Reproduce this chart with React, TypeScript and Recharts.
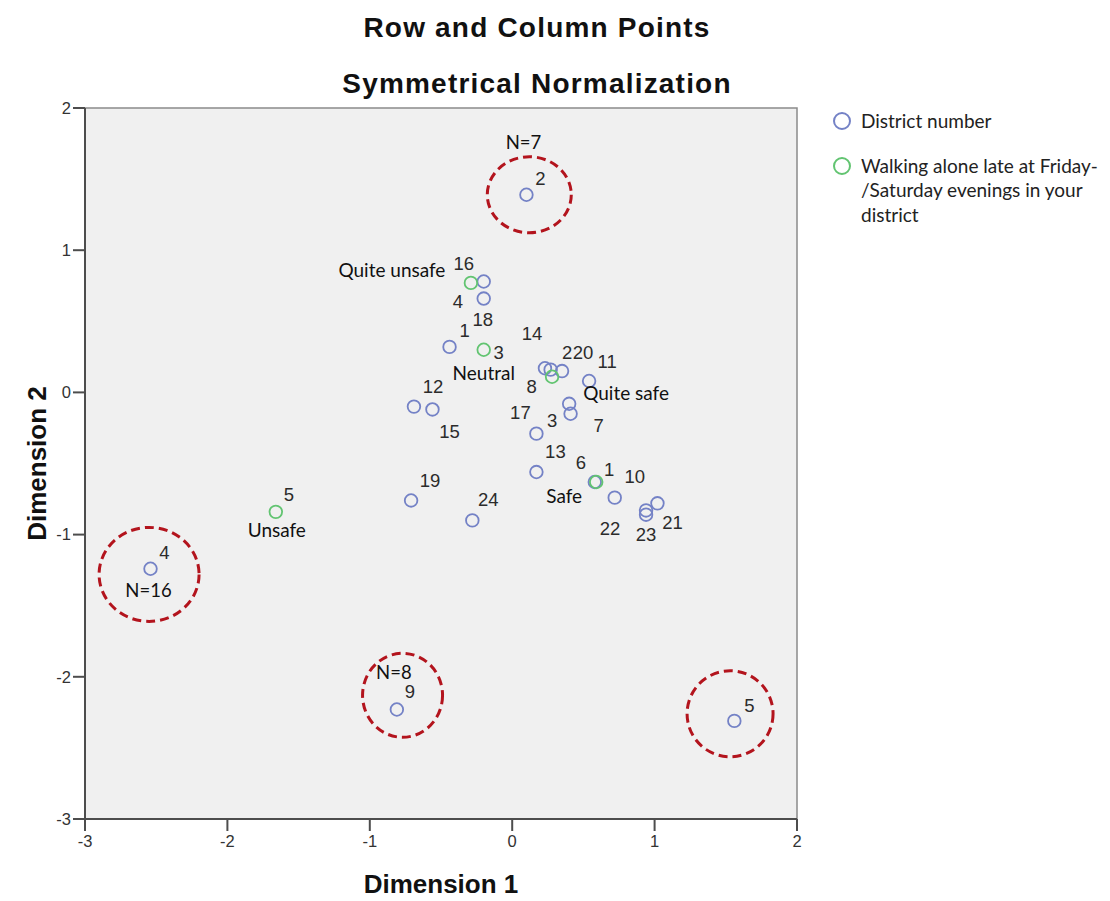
import {
  ScatterChart,
  Scatter,
  XAxis,
  YAxis,
  ReferenceArea,
  ReferenceDot,
  Legend,
  Label,
} from "recharts";

// row points: districts
const districtNames = [
  "1", "2", "3", "4", "5", "6", "7", "8", "9", "10", "11", "12",
  "13", "14", "15", "16", "17", "18", "19", "20", "21", "22", "23", "24",
];
const districtDim1 = [
  -0.44, 0.1, 0.4, -2.54, 1.56, 0.58, 0.41, 0.27, -0.81, 0.72, 0.54, -0.69,
  0.17, 0.23, -0.56, -0.2, 0.17, -0.2, -0.71, 0.35, 1.02, 0.94, 0.94, -0.28,
];
const districtDim2 = [
  0.32, 1.39, -0.08, -1.24, -2.31, -0.63, -0.15, 0.16, -2.23, -0.74, 0.08, -0.1,
  -0.56, 0.17, -0.12, 0.78, -0.29, 0.66, -0.76, 0.15, -0.78, -0.83, -0.86, -0.9,
];

// column points: walking alone late
const walkCodes = ["1", "2", "3", "4", "5"];
const walkNames = ["Safe", "Quite safe", "Neutral", "Quite unsafe", "Unsafe"];
const walkDim1 = [0.59, 0.28, -0.2, -0.29, -1.66];
const walkDim2 = [-0.63, 0.11, 0.3, 0.77, -0.84];

const axisTicks = [-3, -2, -1, 0, 1, 2];

// group sizes written next to the outlying districts
const districtNotes: Record<string, string> = { "2": "N=7", "4": "N=16", "9": "N=8" };

// dashed rings drawn round the outliers
const ringDim1 = [0.12, -2.55, -0.77, 1.53];
const ringDim2 = [1.39, -1.28, -2.13, -2.26];

// label placement (px from the point)
const districtLabelOffset: Record<string, [number, number]> = {
  "1": [15, -16], "2": [14, -16], "3": [-17, 17], "4": [14, -16],
  "5": [15, -15], "6": [-14, -19], "7": [28, 12], "8": [-19, 17],
  "9": [13, -18], "10": [20, -21], "11": [18, -20], "12": [19, -20],
  "13": [19, -21], "14": [-13, -35], "15": [17, 22], "16": [-20, -18],
  "17": [-16, -21], "18": [-1, 21], "19": [19, -20], "20": [21, -19],
  "21": [15, 19], "22": [-36, 18], "23": [0, 20], "24": [16, -21],
};
const noteOffset: Record<string, [number, number]> = {
  "2": [-3, -53], "4": [-2, 21], "9": [-3, -38],
};
const walkCodeOffset: Record<string, [number, number]> = {
  "1": [13, -12], "2": [15, -24], "3": [15, 3], "4": [-13, 19], "5": [13, -17],
};
const walkNameOffset: Record<string, [number, number]> = {
  "1": [-32, 14], "2": [74, 16], "3": [0, 23], "4": [-79, -13], "5": [1, 18],
};
const ringRadius: [number, number][] = [[42, 38], [50, 47], [40, 42], [43, 43]];

const districts = districtNames.map((name, i) => ({
  name,
  x: districtDim1[i],
  y: districtDim2[i],
}));
const walking = walkCodes.map((code, i) => ({
  name: code,
  label: walkNames[i],
  x: walkDim1[i],
  y: walkDim2[i],
}));
const rings = ringDim1.map((x, i) => ({ x, y: ringDim2[i] }));

const BLUE = "#7482c6";
const GREEN = "#62c471";
const RED = "#b3141d";
const AXIS = "#4d4d4d";
const NUM_FONT = "'Liberation Sans', Arial, sans-serif";
const NOTE_FONT = "Lato, 'Open Sans', sans-serif";

const DistrictMark = (props: any) => {
  const { cx, cy, payload } = props;
  const off = districtLabelOffset[payload.name] || [14, -16];
  const note = districtNotes[payload.name];
  const noff = noteOffset[payload.name];
  return (
    <g>
      <circle cx={cx} cy={cy} r={6.3} fill="none" stroke={BLUE} strokeWidth={1.8} />
      <text
        x={cx + off[0]}
        y={cy + off[1]}
        textAnchor="middle"
        dominantBaseline="central"
        fontFamily={NUM_FONT}
        fontSize={18.5}
        fill="#2b2b2b"
      >
        {payload.name}
      </text>
      {note && (
        <text
          x={cx + noff[0]}
          y={cy + noff[1]}
          textAnchor="middle"
          dominantBaseline="central"
          fontFamily={NOTE_FONT}
          fontSize={18.5}
          fill="#111"
        >
          {note}
        </text>
      )}
    </g>
  );
};

const WalkMark = (props: any) => {
  const { cx, cy, payload } = props;
  const off = walkCodeOffset[payload.name];
  const noff = walkNameOffset[payload.name];
  return (
    <g>
      <circle cx={cx} cy={cy} r={6.3} fill="none" stroke={GREEN} strokeWidth={1.8} />
      <text
        x={cx + off[0]}
        y={cy + off[1]}
        textAnchor="middle"
        dominantBaseline="central"
        fontFamily={NUM_FONT}
        fontSize={18.5}
        fill="#2b2b2b"
      >
        {payload.name}
      </text>
      <text
        x={cx + noff[0]}
        y={cy + noff[1]}
        textAnchor="middle"
        dominantBaseline="central"
        fontFamily={NOTE_FONT}
        fontSize={19}
        fill="#111"
      >
        {payload.label}
      </text>
    </g>
  );
};

const renderLegend = () => (
  <div
    style={{
      fontFamily: NOTE_FONT,
      fontSize: 19,
      color: "#222",
      lineHeight: "24.5px",
      whiteSpace: "nowrap",
    }}
  >
    <div style={{ display: "flex", alignItems: "flex-start" }}>
      <svg width={20} height={24} style={{ flex: "none" }}>
        <circle cx={10} cy={12} r={8} fill="none" stroke={BLUE} strokeWidth={2} />
      </svg>
      <span style={{ marginLeft: 9 }}>District number</span>
    </div>
    <div style={{ display: "flex", alignItems: "flex-start", marginTop: 20 }}>
      <svg width={20} height={24} style={{ flex: "none" }}>
        <circle cx={10} cy={12} r={8} fill="none" stroke={GREEN} strokeWidth={2} />
      </svg>
      <span style={{ marginLeft: 9 }}>
        Walking alone late at Friday-
        <br />
        /Saturday evenings in your
        <br />
        district
      </span>
    </div>
  </div>
);

const App = () => {
  return (
    <div style={{ position: "relative", width: 1102, height: 893 }}>
      <svg
        width={1102}
        height={100}
        style={{ position: "absolute", left: 0, top: 0, pointerEvents: "none" }}
      >
        <text
          x={529}
          y={29}
          textAnchor="middle"
          fontFamily={NUM_FONT}
          fontWeight="bold"
          fontSize={28}
          letterSpacing={1.2}
          fill="#111"
        >
          Row and Column Points
        </text>
        <text
          x={529}
          y={85}
          textAnchor="middle"
          fontFamily={NUM_FONT}
          fontWeight="bold"
          fontSize={28}
          letterSpacing={1.2}
          fill="#111"
        >
          Symmetrical Normalization
        </text>
      </svg>
      <ScatterChart
        width={1102}
        height={893}
        margin={{ top: 100, right: 313, bottom: 0, left: 0 }}
      >
        <ReferenceArea
          x1={-3}
          x2={2}
          y1={-3}
          y2={2}
          fill="#f0f0f0"
          fillOpacity={1}
          stroke="#8a8a8a"
          strokeWidth={1.5}
        />
        <XAxis
          type="number"
          dataKey="x"
          domain={[-3, 2]}
          ticks={axisTicks}
          height={82}
          tickSize={12}
          tickMargin={4}
          axisLine={{ stroke: AXIS, strokeWidth: 2 }}
          tickLine={{ stroke: AXIS, strokeWidth: 2 }}
          tick={{ fill: "#333", fontSize: 16.5, fontFamily: NUM_FONT }}
        >
          <Label
            content={({ viewBox }: any) => (
              <text
                x={viewBox.x + viewBox.width / 2}
                y={885}
                textAnchor="middle"
                fontFamily={NUM_FONT}
                fontWeight="bold"
                fontSize={26}
                fill="#111"
              >
                Dimension 1
              </text>
            )}
          />
        </XAxis>
        <YAxis
          type="number"
          dataKey="y"
          domain={[-3, 2]}
          ticks={axisTicks}
          width={77}
          tickSize={12}
          tickMargin={2}
          axisLine={{ stroke: AXIS, strokeWidth: 2 }}
          tickLine={{ stroke: AXIS, strokeWidth: 2 }}
          tick={{ fill: "#333", fontSize: 16.5, fontFamily: NUM_FONT }}
        >
          <Label
            content={({ viewBox }: any) => {
              const cy = viewBox.y + viewBox.height / 2;
              return (
                <text
                  x={29}
                  y={cy}
                  transform={`rotate(-90 29 ${cy})`}
                  textAnchor="middle"
                  dominantBaseline="central"
                  fontFamily={NUM_FONT}
                  fontWeight="bold"
                  fontSize={26}
                  fill="#111"
                >
                  Dimension 2
                </text>
              );
            }}
          />
        </YAxis>
        <Legend
          layout="vertical"
          align="center"
          verticalAlign="middle"
          content={renderLegend}
          wrapperStyle={{ position: "absolute", left: 824, top: 101, width: 280 }}
        />
        <Scatter
          name="District number"
          data={districts}
          shape={DistrictMark}
          isAnimationActive={false}
        />
        <Scatter
          name="Walking alone late at Friday-/Saturday evenings in your district"
          data={walking}
          shape={WalkMark}
          isAnimationActive={false}
        />
        {rings.map((r, i) => (
          <ReferenceDot
            key={`ring-${i}`}
            x={r.x}
            y={r.y}
            shape={(p: any) => (
              <ellipse
                cx={p.cx}
                cy={p.cy}
                rx={ringRadius[i][0]}
                ry={ringRadius[i][1]}
                fill="none"
                stroke={RED}
                strokeWidth={3}
                strokeDasharray="9 5"
              />
            )}
          />
        ))}
      </ScatterChart>
    </div>
  );
};

export default App;
